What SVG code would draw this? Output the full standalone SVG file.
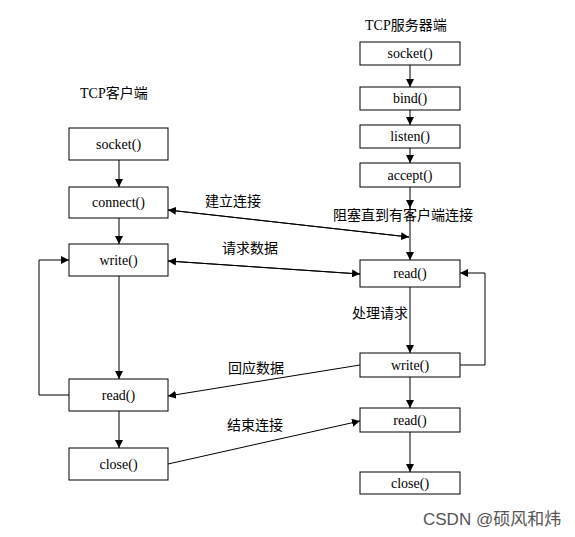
<svg xmlns="http://www.w3.org/2000/svg" width="575" height="537" viewBox="0 0 575 537">
<style>
.box{fill:#fff;stroke:#000;stroke-width:1}
.bt{font-family:"Liberation Serif",serif;font-size:14px;text-anchor:middle;dominant-baseline:central;fill:#000}
.lbl{font-family:"Liberation Sans","Noto Sans CJK SC",sans-serif;font-size:14px;fill:#000;dominant-baseline:central}
.ser{font-family:"Liberation Serif",serif}
.ln{stroke:#000;stroke-width:1;fill:none}
</style>
<defs>
<marker id="ah" markerUnits="userSpaceOnUse" markerWidth="9" markerHeight="8" refX="8" refY="4" orient="auto">
<path d="M0,0 L8,4 L0,8 z" fill="#000"/>
</marker>
</defs>
<rect width="575" height="537" fill="#fff"/>
<text class="lbl" x="80" y="93"><tspan class="ser">TCP</tspan>客户端</text>
<text class="lbl" x="365" y="25"><tspan class="ser">TCP</tspan>服务器端</text>
<g id="c_socket"><rect class="box" x="69" y="128" width="99" height="32"/><text class="bt" x="118.5" y="144">socket()</text></g>
<g id="c_connect"><rect class="box" x="69" y="187" width="99" height="31"/><text class="bt" x="118.5" y="202.5">connect()</text></g>
<g id="c_write"><rect class="box" x="69" y="244" width="99" height="32"/><text class="bt" x="118.5" y="260">write()</text></g>
<g id="c_read"><rect class="box" x="69" y="379" width="99" height="32"/><text class="bt" x="118.5" y="395">read()</text></g>
<g id="c_close"><rect class="box" x="69" y="448" width="99" height="32"/><text class="bt" x="118.5" y="464">close()</text></g>
<g id="s_socket"><rect class="box" x="360" y="42" width="100" height="23"/><text class="bt" x="410" y="53.5">socket()</text></g>
<g id="s_bind"><rect class="box" x="360" y="87" width="100" height="23"/><text class="bt" x="410" y="98.5">bind()</text></g>
<g id="s_listen"><rect class="box" x="360" y="125" width="100" height="23"/><text class="bt" x="410" y="136.5">listen()</text></g>
<g id="s_accept"><rect class="box" x="360" y="163" width="100" height="24"/><text class="bt" x="410" y="175">accept()</text></g>
<g id="s_read"><rect class="box" x="360" y="260" width="100" height="27"/><text class="bt" x="410" y="273.5">read()</text></g>
<g id="s_write"><rect class="box" x="360" y="353" width="100" height="24"/><text class="bt" x="410" y="365">write()</text></g>
<g id="s_read2"><rect class="box" x="360" y="408" width="100" height="24"/><text class="bt" x="410" y="420">read()</text></g>
<g id="s_close"><rect class="box" x="360" y="472" width="100" height="22"/><text class="bt" x="410" y="483">close()</text></g>
<g id="connectors">
<line class="ln" x1="119" y1="160" x2="119" y2="187" marker-end="url(#ah)"/>
<line class="ln" x1="119" y1="218" x2="119" y2="244" marker-end="url(#ah)"/>
<line class="ln" x1="119" y1="276" x2="119" y2="379" marker-end="url(#ah)"/>
<line class="ln" x1="119" y1="411" x2="119" y2="448" marker-end="url(#ah)"/>
<polyline class="ln" points="69,395 39,395 39,260 69,260" marker-end="url(#ah)"/>
<line class="ln" x1="410" y1="65" x2="410" y2="87" marker-end="url(#ah)"/>
<line class="ln" x1="410" y1="110" x2="410" y2="125" marker-end="url(#ah)"/>
<line class="ln" x1="410" y1="148" x2="410" y2="163" marker-end="url(#ah)"/>
<line class="ln" x1="410" y1="187" x2="410" y2="208" marker-end="url(#ah)"/>
<line class="ln" x1="410" y1="207" x2="410" y2="260" marker-end="url(#ah)"/>
<line class="ln" x1="410" y1="287" x2="410" y2="353" marker-end="url(#ah)"/>
<line class="ln" x1="410" y1="377" x2="410" y2="408" marker-end="url(#ah)"/>
<line class="ln" x1="410" y1="432" x2="410" y2="472" marker-end="url(#ah)"/>
<polyline class="ln" points="460,365 485,365 485,273 460,273" marker-end="url(#ah)"/>
<line class="ln" x1="409" y1="237" x2="168" y2="210" marker-end="url(#ah)"/>
<line class="ln" x1="168" y1="210" x2="409" y2="237" marker-end="url(#ah)"/>
<line class="ln" x1="360" y1="274" x2="168" y2="261" marker-end="url(#ah)"/>
<line class="ln" x1="168" y1="261" x2="360" y2="274" marker-end="url(#ah)"/>
<line class="ln" x1="360" y1="365" x2="168" y2="396" marker-end="url(#ah)"/>
<line class="ln" x1="168" y1="464" x2="360" y2="421" marker-end="url(#ah)"/>
</g>
<text class="lbl" x="205" y="201">建立连接</text>
<text class="lbl" x="333" y="215">阻塞直到有客户端连接</text>
<text class="lbl" x="222" y="248">请求数据</text>
<text class="lbl" x="352" y="313">处理请求</text>
<text class="lbl" x="228" y="368">回应数据</text>
<text class="lbl" x="227" y="425">结束连接</text>
<text x="423" y="519" font-family="'Liberation Sans','Noto Sans CJK SC',sans-serif" font-size="17" fill="#555" dominant-baseline="central">CSDN @硕风和炜</text>
</svg>
